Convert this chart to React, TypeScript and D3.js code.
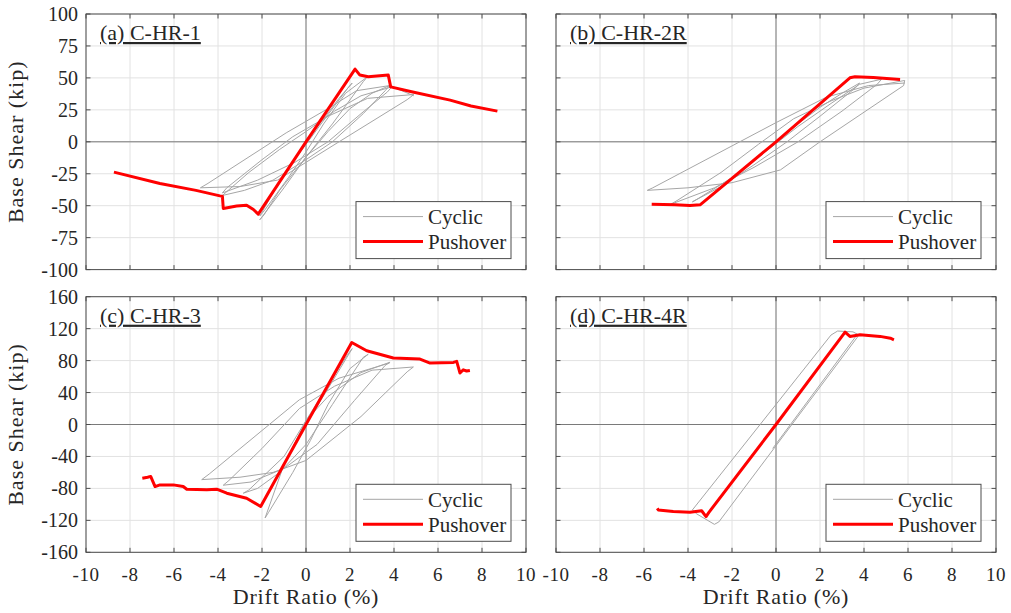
import React, { useEffect, useRef } from 'react';
import * as d3 from 'd3';

// drift ratio (%) vs base shear (kip)
const driftTicks = [-10, -8, -6, -4, -2, 0, 2, 4, 6, 8, 10];
const shearTicksTop = [-100, -75, -50, -25, 0, 25, 50, 75, 100];
const shearTicksBottom = [-160, -120, -80, -40, 0, 40, 80, 120, 160];

const titles = ['(a) C-HR-1', '(b) C-HR-2R', '(c) C-HR-3', '(d) C-HR-4R'];
const legendLabels = ['Cyclic', 'Pushover'];

const pushoverA = [
  [-8.73, -23.7], [-6.64, -32.6], [-5.0, -38], [-3.91, -42.3], [-3.8, -42.6], [-3.76, -52.2],
  [-3.15, -50.3], [-2.7, -49.6], [-2.39, -53], [-2.17, -56.6], [0, 0], [2.23, 56.9],
  [2.45, 52.2], [2.83, 50.9], [3.74, 52.2], [3.85, 43], [4.8, 39.2], [6.55, 32.6],
  [7.5, 28], [8.7, 24],
];
const cyclicA = [
  [0, 0], [0.8, 18], [1.5, 34], [2.1, 46], [1.9, 42], [0.6, 12], [0, -2], [-0.8, -20],
  [-1.5, -40], [-2.1, -58], [-1.9, -54], [-0.8, -28], [0, -8], [0.8, 14], [1.8, 38],
  [2.8, 51], [2.6, 47], [1.2, 14], [0, -12], [-1, -36], [-2.1, -61], [-1.9, -57],
  [-1.2, -38], [0, -12], [1, 8], [2, 26], [3, 38], [3.8, 44], [3.6, 40], [2.6, 22],
  [1.2, 0], [0, -14], [-1.5, -30], [-2.8, -38], [-3.8, -42], [-3.6, -39], [-2.6, -24],
  [-1.2, -6], [0, 8], [1.3, 24], [2.5, 36], [3.9, 43], [3.7, 39], [2.5, 22], [1, 0],
  [-0.5, -16], [-2.2, -30], [-3.8, -40], [-3.6, -36], [-2, -14], [-0.6, 4], [1, 20],
  [2.8, 34], [4.9, 37], [4.6, 33], [1.5, 0], [-1.3, -30], [-3, -35], [-4.8, -36],
  [-4.5, -33], [-0.9, 7], [1, 26], [2.3, 40], [3.8, 44], [4.9, 36],
];

const pushoverB = [
  [-5.65, -48.8], [-4.6, -49.2], [-3.91, -49.8], [-3.45, -49.3], [0, 0], [3.36, 50.1],
  [3.59, 50.9], [4.42, 50.4], [5.64, 48.8],
];
const cyclicB = [
  [0, 0], [1, 14], [2, 27], [3, 38], [3.8, 46], [3.6, 42], [2, 20], [0.5, 0], [-1, -18],
  [-2.5, -35], [-3.8, -47], [-3.5, -44], [-2, -28], [-0.5, -8], [1, 12], [2.5, 30],
  [3.8, 45], [4.8, 49], [4.6, 45], [3, 24], [1, 0], [-1, -20], [-2.8, -36], [-4.8, -49],
  [-4.5, -46], [-2.5, -24], [-0.8, -2], [0.8, 18], [2.5, 32], [4, 42], [5.85, 48],
  [5.8, 44], [2, 0], [0.2, -22], [-2, -32], [-4, -36], [-5.85, -38], [-5.6, -36],
  [0, 15], [2.3, 35], [4.2, 44], [5.86, 46],
];

const pushoverC = [
  [-7.44, -67.2], [-7.2, -66], [-7.06, -65], [-6.86, -77.7], [-6.64, -75.6], [-6.03, -75.6],
  [-5.58, -77.7], [-5.42, -81], [-4.51, -81.8], [-4.06, -81], [-3.6, -86], [-2.7, -92.3],
  [-2.06, -102.7], [0, 0], [2.08, 102.7], [2.76, 92.3], [3.97, 83.2], [5.18, 81.9],
  [5.64, 76.9], [6.7, 77.7], [6.85, 79], [7.0, 64.4], [7.15, 68.5], [7.3, 67], [7.45, 67.7],
];
const cyclicC = [
  [0, 0], [1, 45], [2.1, 95], [1.9, 88], [0.8, 40], [0, 5], [-1, -50], [-1.86, -117],
  [-1.7, -110], [-0.6, -60], [0.2, -20], [1, 25], [2, 70], [2.83, 88], [2.6, 84],
  [1.2, 25], [0, -25], [-1.2, -60], [-2.2, -80], [-2.85, -86], [-2.6, -82], [-1, -40],
  [0, 5], [1, 35], [2.5, 65], [3.82, 78], [3.6, 74], [2.2, 30], [0.5, -25], [-1, -55],
  [-2.5, -72], [-3.76, -76], [-3.5, -70], [-2, -30], [-0.3, 20], [1.3, 48], [3, 68],
  [4.88, 72], [4.6, 66], [2.5, 10], [0, -45], [-1.5, -60], [-3, -66], [-4.74, -69],
  [-4.4, -62], [-0.3, 31], [1.5, 58], [3.8, 77],
];

const pushoverD = [
  [-5.4, -105], [-5.35, -106.9], [-4.67, -109], [-3.91, -109.8], [-3.38, -108],
  [-3.18, -115.3], [-3.05, -110], [0, 0], [3.14, 115.7], [3.36, 110.3], [3.82, 112.4],
  [4.73, 110.3], [5.2, 108], [5.36, 106.1],
];
const cyclicD = [
  [-0.15, -30], [3.7, 113], [3.5, 116], [2.8, 117], [2.5, 112], [-3.8, -107],
  [-3.6, -112], [-2.8, -125], [-2.6, -122], [3.8, 113],
];

const W = 1011;
const H = 613;
const colLeft = [86, 556];
const rowTop = [14, 296.7];
const pw = 440;
const ph = 255.6;

const panels = [
  { title: titles[0], cyclic: cyclicA, pushover: pushoverA, col: 0, row: 0 },
  { title: titles[1], cyclic: cyclicB, pushover: pushoverB, col: 1, row: 0 },
  { title: titles[2], cyclic: cyclicC, pushover: pushoverC, col: 0, row: 1 },
  { title: titles[3], cyclic: cyclicD, pushover: pushoverD, col: 1, row: 1 },
];

const font = '"Liberation Serif", "Times New Roman", "DejaVu Serif", "Noto Serif", serif';

function App() {
  const ref = useRef(null);

  useEffect(() => {
    const svg = d3.select(ref.current);
    svg.selectAll('*').remove();
    const ink = '#262626';

    panels.forEach((p) => {
      const left = colLeft[p.col];
      const top = rowTop[p.row];
      const yTicks = p.row === 0 ? shearTicksTop : shearTicksBottom;
      const x = d3.scaleLinear().domain([-10, 10]).range([left, left + pw]);
      const y = d3
        .scaleLinear()
        .domain([yTicks[0], yTicks[yTicks.length - 1]])
        .range([top + ph, top]);

      const g = svg.append('g');
      g.append('rect')
        .attr('x', left).attr('y', top).attr('width', pw).attr('height', ph)
        .attr('fill', '#fff');

      // grid
      g.append('g')
        .selectAll('line')
        .data(driftTicks)
        .join('line')
        .attr('x1', (d) => x(d)).attr('x2', (d) => x(d))
        .attr('y1', top).attr('y2', top + ph)
        .attr('stroke', '#e2e2e2');
      g.append('g')
        .selectAll('line')
        .data(yTicks)
        .join('line')
        .attr('y1', (d) => y(d)).attr('y2', (d) => y(d))
        .attr('x1', left).attr('x2', left + pw)
        .attr('stroke', '#e2e2e2');

      // zero lines
      g.append('line')
        .attr('x1', x(0)).attr('x2', x(0)).attr('y1', top).attr('y2', top + ph)
        .attr('stroke', '#7a7a7a');
      g.append('line')
        .attr('y1', y(0)).attr('y2', y(0)).attr('x1', left).attr('x2', left + pw)
        .attr('stroke', '#7a7a7a');

      const line = d3.line().x((d) => x(d[0])).y((d) => y(d[1]));

      g.append('path')
        .attr('d', line(p.cyclic))
        .attr('fill', 'none')
        .attr('stroke', '#a6a6a6')
        .attr('stroke-width', 1)
        .attr('stroke-linejoin', 'round');

      g.append('path')
        .attr('d', line(p.pushover))
        .attr('fill', 'none')
        .attr('stroke', '#ff0000')
        .attr('stroke-width', 3)
        .attr('stroke-linejoin', 'round');

      // ticks (inside, mirrored)
      const tl = 4.5;
      const tickG = g.append('g').attr('stroke', '#4d4d4d');
      driftTicks.forEach((t) => {
        tickG.append('line').attr('x1', x(t)).attr('x2', x(t)).attr('y1', top + ph).attr('y2', top + ph - tl);
        tickG.append('line').attr('x1', x(t)).attr('x2', x(t)).attr('y1', top).attr('y2', top + tl);
      });
      yTicks.forEach((t) => {
        tickG.append('line').attr('y1', y(t)).attr('y2', y(t)).attr('x1', left).attr('x2', left + tl);
        tickG.append('line').attr('y1', y(t)).attr('y2', y(t)).attr('x1', left + pw).attr('x2', left + pw - tl);
      });

      g.append('rect')
        .attr('x', left).attr('y', top).attr('width', pw).attr('height', ph)
        .attr('fill', 'none').attr('stroke', '#4d4d4d');

      // tick labels
      if (p.col === 0) {
        g.append('g')
          .selectAll('text')
          .data(yTicks)
          .join('text')
          .attr('x', left - 8)
          .attr('y', (d) => y(d))
          .attr('dy', '0.35em')
          .attr('text-anchor', 'end')
          .style('font-family', font)
          .attr('font-size', 20)
          .attr('fill', ink)
          .text((d) => d);
        g.append('text')
          .attr('transform', `translate(${left - 63},${top + ph / 2}) rotate(-90)`)
          .attr('text-anchor', 'middle')
          .style('font-family', font)
          .attr('font-size', 22)
          .attr('letter-spacing', 1)
          .attr('fill', ink)
          .text('Base Shear (kip)');
      }
      if (p.row === 1) {
        g.append('g')
          .selectAll('text')
          .data(driftTicks)
          .join('text')
          .attr('x', (d) => x(d))
          .attr('y', top + ph + 29)
          .attr('text-anchor', 'middle')
          .style('font-family', font)
          .attr('font-size', 19)
          .attr('letter-spacing', 0.5)
          .attr('fill', ink)
          .text((d) => d);
        g.append('text')
          .attr('x', left + pw / 2)
          .attr('y', top + ph + 52)
          .attr('text-anchor', 'middle')
          .style('font-family', font)
          .attr('font-size', 22)
          .attr('letter-spacing', 0.8)
          .attr('fill', ink)
          .text('Drift Ratio (%)');
      }

      // panel title
      g.append('text')
        .attr('x', left + 14)
        .attr('y', top + 26)
        .style('font-family', font)
        .attr('font-size', 22)
        .attr('fill', ink)
        .attr('text-decoration', 'underline')
        .text(p.title);

      // legend
      const lx = left + 270;
      const ly = top + ph - 68;
      const lg = g.append('g');
      lg.append('rect')
        .attr('x', lx).attr('y', ly).attr('width', 155).attr('height', 57)
        .attr('fill', '#fff').attr('stroke', '#4d4d4d');
      const colors = ['#a6a6a6', '#ff0000'];
      const widths = [1, 3];
      legendLabels.forEach((lab, i) => {
        const cy = ly + 15 + i * 25;
        lg.append('line')
          .attr('x1', lx + 7).attr('x2', lx + 67).attr('y1', cy).attr('y2', cy)
          .attr('stroke', colors[i]).attr('stroke-width', widths[i]);
        lg.append('text')
          .attr('x', lx + 72).attr('y', cy).attr('dy', '0.35em')
          .style('font-family', font).attr('font-size', 21).attr('fill', ink)
          .text(lab);
      });
    });
  }, []);

  return (
    <svg
      ref={ref}
      width={W}
      height={H}
      style={{ position: 'absolute', left: 0, top: 0, background: '#fff' }}
    />
  );
}

export default App;
